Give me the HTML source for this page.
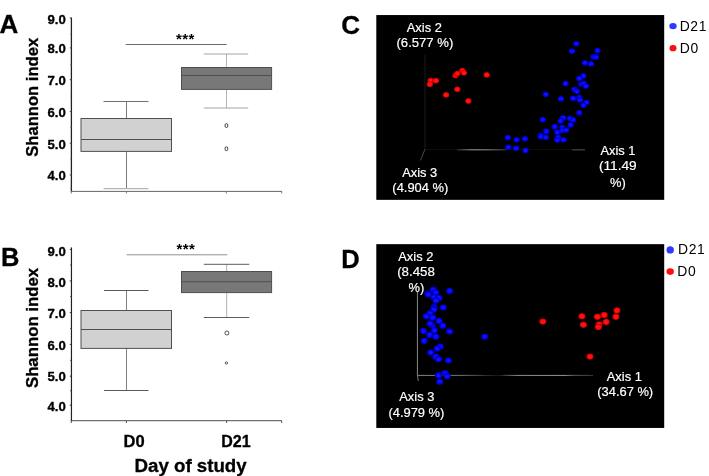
<!DOCTYPE html>
<html><head><meta charset="utf-8"><title>Figure</title>
<style>
html,body{margin:0;padding:0;background:#fff;}
body{width:709px;height:476px;overflow:hidden;}
svg{display:block;font-family:"Liberation Sans",sans-serif;}
svg text{fill:#000;}
svg text.w{fill:#fff;stroke:#fff;stroke-width:0.18px;}
svg text[font-weight="bold"]{stroke:#000;stroke-width:0.32px;}
svg text.ns{stroke:none;}
</style></head><body>
<svg width="709" height="476" viewBox="0 0 709 476">
<defs>
<filter id="soft" x="0" y="0" width="709" height="476" filterUnits="userSpaceOnUse"><feGaussianBlur stdDeviation="0.32"/></filter>
<linearGradient id="gC" gradientUnits="userSpaceOnUse" x1="457" y1="0" x2="506" y2="0"><stop offset="0" stop-color="#2a2a2a"/><stop offset="0.3" stop-color="#9a9a9a"/><stop offset="0.6" stop-color="#8a8a8a"/><stop offset="1" stop-color="#3a3a3a"/></linearGradient>
<linearGradient id="gD1" gradientUnits="userSpaceOnUse" x1="417" y1="0" x2="500" y2="0"><stop offset="0" stop-color="#858585"/><stop offset="0.55" stop-color="#707070"/><stop offset="0.8" stop-color="#3a3a3a"/><stop offset="1" stop-color="#151515"/></linearGradient>
<linearGradient id="gD2" gradientUnits="userSpaceOnUse" x1="498" y1="0" x2="593" y2="0"><stop offset="0" stop-color="#151515"/><stop offset="0.2" stop-color="#8c8c8c"/><stop offset="0.7" stop-color="#999"/><stop offset="0.8" stop-color="#555"/><stop offset="1" stop-color="#3a3a3a"/></linearGradient>
<radialGradient id="rR"><stop offset="0" stop-color="#ff1c1c"/><stop offset="0.55" stop-color="#ff0a0a"/><stop offset="0.82" stop-color="#e00000"/><stop offset="1" stop-color="#7a0000"/></radialGradient>
<radialGradient id="rB"><stop offset="0" stop-color="#1414ff"/><stop offset="0.55" stop-color="#0606ff"/><stop offset="0.82" stop-color="#0000e0"/><stop offset="1" stop-color="#000078"/></radialGradient>
</defs>
<g filter="url(#soft)">
<rect x="-5" y="-5" width="719" height="486" fill="#fff"/>
<line x1="71.4" y1="17.5" x2="71.4" y2="191.3" stroke="#222" stroke-width="1.3"/><line x1="69.7" y1="18" x2="71.4" y2="18" stroke="#444" stroke-width="0.9"/><line x1="69.7" y1="47.9" x2="71.4" y2="47.9" stroke="#444" stroke-width="0.9"/><line x1="69.7" y1="79.7" x2="71.4" y2="79.7" stroke="#444" stroke-width="0.9"/><line x1="69.7" y1="111.5" x2="71.4" y2="111.5" stroke="#444" stroke-width="0.9"/><line x1="69.7" y1="143.2" x2="71.4" y2="143.2" stroke="#444" stroke-width="0.9"/><line x1="69.7" y1="175" x2="71.4" y2="175" stroke="#444" stroke-width="0.9"/><line x1="70.0" y1="34.2" x2="71.4" y2="34.2" stroke="#777" stroke-width="0.8"/><line x1="70.0" y1="64.5" x2="71.4" y2="64.5" stroke="#777" stroke-width="0.8"/><line x1="70.0" y1="96" x2="71.4" y2="96" stroke="#777" stroke-width="0.8"/><line x1="70.0" y1="127.5" x2="71.4" y2="127.5" stroke="#777" stroke-width="0.8"/><line x1="70.0" y1="159" x2="71.4" y2="159" stroke="#777" stroke-width="0.8"/><line x1="70.0" y1="188" x2="71.4" y2="188" stroke="#777" stroke-width="0.8"/>
<text x="65.8" y="24.3" font-size="13.2" font-weight="bold" text-anchor="end">9.0</text><text x="65.8" y="53.3" font-size="13.2" font-weight="bold" text-anchor="end">8.0</text><text x="65.8" y="85.1" font-size="13.2" font-weight="bold" text-anchor="end">7.0</text><text x="65.8" y="117.4" font-size="13.2" font-weight="bold" text-anchor="end">6.0</text><text x="65.8" y="148.8" font-size="13.2" font-weight="bold" text-anchor="end">5.0</text><text x="65.8" y="180.3" font-size="13.2" font-weight="bold" text-anchor="end">4.0</text>
<line x1="70.7" y1="191.4" x2="282" y2="191.4" stroke="#555" stroke-width="0.9"/>
<line x1="71.3" y1="191.3" x2="71.3" y2="193.5" stroke="#777" stroke-width="1"/>
<line x1="126.4" y1="191.3" x2="126.4" y2="193.5" stroke="#777" stroke-width="1"/>
<line x1="226.3" y1="191.3" x2="226.3" y2="193.5" stroke="#777" stroke-width="1"/>
<line x1="281.7" y1="191.3" x2="281.7" y2="193.5" stroke="#777" stroke-width="1"/>
<line x1="126.5" y1="101.5" x2="126.5" y2="188.7" stroke="#5a5a5a" stroke-width="0.8"/><line x1="103.5" y1="101.5" x2="148.5" y2="101.5" stroke="#707070" stroke-width="1"/><line x1="103.5" y1="188.7" x2="148.5" y2="188.7" stroke="#a4a4a4" stroke-width="1"/><rect x="81.0" y="118.5" width="90.5" height="32.900000000000006" fill="#d1d1d1" stroke="#505050" stroke-width="1"/><line x1="81.0" y1="139.5" x2="171.5" y2="139.5" stroke="#505050" stroke-width="1"/>
<line x1="226.5" y1="54.0" x2="226.5" y2="108" stroke="#b4b4b4" stroke-width="1"/><line x1="203.8" y1="54.0" x2="248.2" y2="54.0" stroke="#a4a4a4" stroke-width="1"/><line x1="203.8" y1="108" x2="248.2" y2="108" stroke="#a4a4a4" stroke-width="1"/><rect x="181.5" y="67.5" width="90.10000000000002" height="21.900000000000006" fill="#787878" stroke="#505050" stroke-width="1"/><line x1="181.5" y1="75.5" x2="271.6" y2="75.5" stroke="#505050" stroke-width="1"/>
<line x1="125.6" y1="44.5" x2="226.6" y2="44.5" stroke="#6a6a6a" stroke-width="1"/>
<text class="ns" x="185.4" y="43.9" font-size="15" letter-spacing="0.5" font-weight="bold" text-anchor="middle">***</text>
<rect x="225.1" y="123.7" width="2.6" height="3.7" rx="1.1" fill="#fff" stroke="#2e2e2e" stroke-width="0.9"/>
<rect x="225.1" y="146.9" width="2.6" height="3.7" rx="1.1" fill="#fff" stroke="#2e2e2e" stroke-width="0.9"/>
<text transform="translate(38.4,97.3) rotate(-90)" font-size="16.6" font-weight="bold" text-anchor="middle">Shannon index</text>
<text x="-0.5" y="33" font-size="26" font-weight="bold">A</text>
<line x1="71.45" y1="247.4" x2="71.45" y2="420.8" stroke="#222" stroke-width="1.2"/><line x1="69.75" y1="249.4" x2="71.45" y2="249.4" stroke="#222" stroke-width="0.9"/><line x1="69.75" y1="280.9" x2="71.45" y2="280.9" stroke="#222" stroke-width="0.9"/><line x1="69.75" y1="312.6" x2="71.45" y2="312.6" stroke="#222" stroke-width="0.9"/><line x1="69.75" y1="344.4" x2="71.45" y2="344.4" stroke="#222" stroke-width="0.9"/><line x1="69.75" y1="376.2" x2="71.45" y2="376.2" stroke="#222" stroke-width="0.9"/><line x1="69.75" y1="405.2" x2="71.45" y2="405.2" stroke="#222" stroke-width="0.9"/><line x1="70.05" y1="265.1" x2="71.45" y2="265.1" stroke="#3a3a3a" stroke-width="0.8"/><line x1="70.05" y1="296.6" x2="71.45" y2="296.6" stroke="#3a3a3a" stroke-width="0.8"/><line x1="70.05" y1="328.5" x2="71.45" y2="328.5" stroke="#3a3a3a" stroke-width="0.8"/><line x1="70.05" y1="360.3" x2="71.45" y2="360.3" stroke="#3a3a3a" stroke-width="0.8"/><line x1="70.05" y1="390.8" x2="71.45" y2="390.8" stroke="#3a3a3a" stroke-width="0.8"/>
<text x="65.8" y="256.4" font-size="13.2" font-weight="bold" text-anchor="end">9.0</text><text x="65.8" y="287.4" font-size="13.2" font-weight="bold" text-anchor="end">8.0</text><text x="65.8" y="318.3" font-size="13.2" font-weight="bold" text-anchor="end">7.0</text><text x="65.8" y="349.7" font-size="13.2" font-weight="bold" text-anchor="end">6.0</text><text x="65.8" y="381.3" font-size="13.2" font-weight="bold" text-anchor="end">5.0</text><text x="65.8" y="410.5" font-size="13.2" font-weight="bold" text-anchor="end">4.0</text>
<line x1="70.6" y1="420.7" x2="282" y2="420.7" stroke="#3c3c3c" stroke-width="0.9"/>
<line x1="71.3" y1="420.8" x2="71.3" y2="423" stroke="#555" stroke-width="1"/>
<line x1="126.4" y1="420.8" x2="126.4" y2="423" stroke="#555" stroke-width="1"/>
<line x1="226.6" y1="420.8" x2="226.6" y2="423" stroke="#555" stroke-width="1"/>
<line x1="281.7" y1="420.8" x2="281.7" y2="423" stroke="#555" stroke-width="1"/>
<line x1="126.5" y1="290.5" x2="126.5" y2="390.5" stroke="#606060" stroke-width="0.8"/><line x1="104" y1="290.5" x2="148.5" y2="290.5" stroke="#5a5a5a" stroke-width="1"/><line x1="104" y1="390.5" x2="148.5" y2="390.5" stroke="#5a5a5a" stroke-width="1"/><rect x="81.0" y="310.5" width="90.5" height="37.89999999999998" fill="#d1d1d1" stroke="#505050" stroke-width="1"/><line x1="81.0" y1="329.5" x2="171.5" y2="329.5" stroke="#505050" stroke-width="1"/>
<line x1="226.7" y1="264.3" x2="226.7" y2="317.5" stroke="#b0b0b0" stroke-width="1"/><line x1="203.8" y1="264.3" x2="249.3" y2="264.3" stroke="#5c5c5c" stroke-width="1"/><line x1="203.8" y1="317.5" x2="249.3" y2="317.5" stroke="#5c5c5c" stroke-width="1"/><rect x="181.5" y="271.5" width="90.10000000000002" height="21.100000000000023" fill="#787878" stroke="#505050" stroke-width="1"/><line x1="181.5" y1="281.7" x2="271.6" y2="281.7" stroke="#505050" stroke-width="1"/>
<line x1="126.6" y1="254.8" x2="227.3" y2="254.8" stroke="#909090" stroke-width="1"/>
<text class="ns" x="185.9" y="254.0" font-size="15" letter-spacing="0.5" font-weight="bold" text-anchor="middle">***</text>
<rect x="225.1" y="331.2" width="3.6" height="3.6" rx="1.2" fill="#fff" stroke="#444" stroke-width="1"/>
<circle cx="226.4" cy="363" r="1.2" fill="#fff" stroke="#333" stroke-width="0.8"/>
<text transform="translate(38.4,328) rotate(-90)" font-size="16.75" font-weight="bold" text-anchor="middle">Shannon index</text>
<text x="1" y="266.2" font-size="25.5" font-weight="bold">B</text>
<text x="134.1" y="446.7" font-size="16.5" font-weight="bold" text-anchor="middle">D0</text>
<text x="236" y="446.7" font-size="16" font-weight="bold" text-anchor="middle">D21</text>
<text x="190.6" y="472" font-size="18.7" font-weight="bold" text-anchor="middle">Day of study</text>
<rect x="376.3" y="15.05" width="287.9" height="184.8" fill="#000"/>
<line x1="425" y1="55" x2="425" y2="149" stroke="#181818" stroke-width="1"/>
<line x1="425" y1="149" x2="420.5" y2="160.4" stroke="#484848" stroke-width="1"/>
<line x1="425" y1="149.8" x2="585" y2="149.8" stroke="#171717" stroke-width="1"/>
<line x1="457" y1="149.8" x2="506" y2="149.8" stroke="url(#gC)" stroke-width="1"/>
<line x1="572" y1="149.8" x2="585" y2="149.8" stroke="#4a4a4a" stroke-width="1"/>
<ellipse cx="430.6" cy="80.7" rx="3.30" ry="2.90" fill="url(#rR)"/>
<ellipse cx="429.8" cy="84.3" rx="3.30" ry="2.90" fill="url(#rR)"/>
<ellipse cx="435.9" cy="80.7" rx="3.30" ry="2.90" fill="url(#rR)"/>
<ellipse cx="455.5" cy="75.6" rx="3.30" ry="2.90" fill="url(#rR)"/>
<ellipse cx="457.3" cy="73.6" rx="3.30" ry="2.90" fill="url(#rR)"/>
<ellipse cx="462.3" cy="70.6" rx="3.30" ry="2.90" fill="url(#rR)"/>
<ellipse cx="463.9" cy="72.8" rx="3.30" ry="2.90" fill="url(#rR)"/>
<ellipse cx="486.7" cy="74.9" rx="3.30" ry="2.90" fill="url(#rR)"/>
<ellipse cx="457.3" cy="89.3" rx="3.30" ry="2.90" fill="url(#rR)"/>
<ellipse cx="446.1" cy="94.9" rx="3.30" ry="2.90" fill="url(#rR)"/>
<ellipse cx="468.4" cy="101" rx="3.30" ry="2.90" fill="url(#rR)"/>
<ellipse cx="576.3" cy="43.8" rx="3.30" ry="2.90" fill="url(#rB)"/>
<ellipse cx="572" cy="51.1" rx="3.30" ry="2.90" fill="url(#rB)"/>
<ellipse cx="597.6" cy="50.6" rx="3.30" ry="2.90" fill="url(#rB)"/>
<ellipse cx="593.6" cy="57" rx="3.30" ry="2.90" fill="url(#rB)"/>
<ellipse cx="596" cy="57" rx="3.30" ry="2.90" fill="url(#rB)"/>
<ellipse cx="584.9" cy="62.8" rx="3.30" ry="2.90" fill="url(#rB)"/>
<ellipse cx="591" cy="63.8" rx="3.30" ry="2.90" fill="url(#rB)"/>
<ellipse cx="583.4" cy="76" rx="3.30" ry="2.90" fill="url(#rB)"/>
<ellipse cx="579.3" cy="78.5" rx="3.30" ry="2.90" fill="url(#rB)"/>
<ellipse cx="565.6" cy="83.6" rx="3.30" ry="2.90" fill="url(#rB)"/>
<ellipse cx="581.4" cy="84.1" rx="3.30" ry="2.90" fill="url(#rB)"/>
<ellipse cx="583.9" cy="83.6" rx="3.30" ry="2.90" fill="url(#rB)"/>
<ellipse cx="586" cy="86.1" rx="3.30" ry="2.90" fill="url(#rB)"/>
<ellipse cx="574.5" cy="89.4" rx="3.30" ry="2.90" fill="url(#rB)"/>
<ellipse cx="576.8" cy="91.2" rx="3.30" ry="2.90" fill="url(#rB)"/>
<ellipse cx="545.8" cy="94.3" rx="3.30" ry="2.90" fill="url(#rB)"/>
<ellipse cx="561" cy="98.8" rx="3.30" ry="2.90" fill="url(#rB)"/>
<ellipse cx="573.2" cy="98.3" rx="3.30" ry="2.90" fill="url(#rB)"/>
<ellipse cx="579.3" cy="97.6" rx="3.30" ry="2.90" fill="url(#rB)"/>
<ellipse cx="580" cy="100" rx="3.30" ry="2.90" fill="url(#rB)"/>
<ellipse cx="586.4" cy="102.6" rx="3.30" ry="2.90" fill="url(#rB)"/>
<ellipse cx="583.4" cy="105.2" rx="3.30" ry="2.90" fill="url(#rB)"/>
<ellipse cx="579.3" cy="112.8" rx="3.30" ry="2.90" fill="url(#rB)"/>
<ellipse cx="542.8" cy="119.7" rx="3.30" ry="2.90" fill="url(#rB)"/>
<ellipse cx="563" cy="117.9" rx="3.30" ry="2.90" fill="url(#rB)"/>
<ellipse cx="560.6" cy="120.9" rx="3.30" ry="2.90" fill="url(#rB)"/>
<ellipse cx="570" cy="118.4" rx="3.30" ry="2.90" fill="url(#rB)"/>
<ellipse cx="573.2" cy="119.9" rx="3.30" ry="2.90" fill="url(#rB)"/>
<ellipse cx="570.7" cy="124.9" rx="3.30" ry="2.90" fill="url(#rB)"/>
<ellipse cx="554.7" cy="126.7" rx="3.30" ry="2.90" fill="url(#rB)"/>
<ellipse cx="562.3" cy="127.3" rx="3.30" ry="2.90" fill="url(#rB)"/>
<ellipse cx="546.3" cy="131.2" rx="3.30" ry="2.90" fill="url(#rB)"/>
<ellipse cx="557.3" cy="132.2" rx="3.30" ry="2.90" fill="url(#rB)"/>
<ellipse cx="562.3" cy="130.5" rx="3.30" ry="2.90" fill="url(#rB)"/>
<ellipse cx="566.1" cy="130" rx="3.30" ry="2.90" fill="url(#rB)"/>
<ellipse cx="540.8" cy="135.5" rx="3.30" ry="2.90" fill="url(#rB)"/>
<ellipse cx="540.8" cy="136.8" rx="3.30" ry="2.90" fill="url(#rB)"/>
<ellipse cx="545.8" cy="137.3" rx="3.30" ry="2.90" fill="url(#rB)"/>
<ellipse cx="558" cy="137.6" rx="3.30" ry="2.90" fill="url(#rB)"/>
<ellipse cx="557.3" cy="140.1" rx="3.30" ry="2.90" fill="url(#rB)"/>
<ellipse cx="563.6" cy="139.8" rx="3.30" ry="2.90" fill="url(#rB)"/>
<ellipse cx="507.8" cy="137.6" rx="3.30" ry="2.90" fill="url(#rB)"/>
<ellipse cx="516.6" cy="139.8" rx="3.30" ry="2.90" fill="url(#rB)"/>
<ellipse cx="525" cy="138.8" rx="3.30" ry="2.90" fill="url(#rB)"/>
<ellipse cx="508.3" cy="147.2" rx="3.30" ry="2.90" fill="url(#rB)"/>
<ellipse cx="516.1" cy="148.2" rx="3.30" ry="2.90" fill="url(#rB)"/>
<ellipse cx="525.5" cy="150.3" rx="3.30" ry="2.90" fill="url(#rB)"/>
<text x="424.3" y="31.6" font-size="12.9" class="w" text-anchor="middle">Axis 2</text>
<text x="424.9" y="46.9" font-size="13.1" class="w" text-anchor="middle">(6.577 %)</text>
<text x="419.7" y="177.4" font-size="12.9" class="w" text-anchor="middle">Axis 3</text>
<text x="420.3" y="192.4" font-size="12.9" class="w" text-anchor="middle">(4.904 %)</text>
<text x="618" y="155.4" font-size="12.9" class="w" text-anchor="middle">Axis 1</text>
<text x="617.8" y="170.1" font-size="13.7" class="w" text-anchor="middle">(11.49</text>
<text x="618" y="186.8" font-size="12.9" class="w" text-anchor="middle">%)</text>
<text x="341.3" y="33.6" font-size="26" font-weight="bold">C</text>
<ellipse cx="673" cy="26.1" rx="3.7" ry="3.2" fill="#2f3bff"/>
<ellipse cx="673" cy="48.2" rx="3.5" ry="3.1" fill="#ff0a0a"/>
<text x="679.7" y="31.2" font-size="13.9" letter-spacing="0.6">D21</text>
<text x="679.7" y="53.4" font-size="13.9" letter-spacing="0.8">D0</text>
<rect x="376.3" y="244.15" width="287.9" height="183.8" fill="#000"/>
<line x1="417.4" y1="291" x2="417.4" y2="375.3" stroke="#8a8a8a" stroke-width="1"/>
<line x1="417.4" y1="375.3" x2="418.3" y2="381" stroke="#777" stroke-width="1"/>
<line x1="417.4" y1="375.4" x2="500" y2="375.4" stroke="url(#gD1)" stroke-width="1"/>
<line x1="498" y1="375.4" x2="593" y2="375.4" stroke="url(#gD2)" stroke-width="1"/>
<ellipse cx="427.8" cy="293.5" rx="3.65" ry="3.25" fill="url(#rB)"/>
<ellipse cx="433.3" cy="289.7" rx="3.65" ry="3.25" fill="url(#rB)"/>
<ellipse cx="435.7" cy="292.3" rx="3.65" ry="3.25" fill="url(#rB)"/>
<ellipse cx="449.6" cy="290.9" rx="3.65" ry="3.25" fill="url(#rB)"/>
<ellipse cx="428.2" cy="294.6" rx="3.65" ry="3.25" fill="url(#rB)"/>
<ellipse cx="433.9" cy="297.3" rx="3.65" ry="3.25" fill="url(#rB)"/>
<ellipse cx="439" cy="298" rx="3.65" ry="3.25" fill="url(#rB)"/>
<ellipse cx="435.9" cy="300.6" rx="3.65" ry="3.25" fill="url(#rB)"/>
<ellipse cx="434" cy="307.2" rx="3.65" ry="3.25" fill="url(#rB)"/>
<ellipse cx="443.3" cy="307.5" rx="3.65" ry="3.25" fill="url(#rB)"/>
<ellipse cx="433.8" cy="309.6" rx="3.65" ry="3.25" fill="url(#rB)"/>
<ellipse cx="430.1" cy="313.3" rx="3.65" ry="3.25" fill="url(#rB)"/>
<ellipse cx="426.3" cy="316.3" rx="3.65" ry="3.25" fill="url(#rB)"/>
<ellipse cx="432.6" cy="317.6" rx="3.65" ry="3.25" fill="url(#rB)"/>
<ellipse cx="432" cy="325.2" rx="3.65" ry="3.25" fill="url(#rB)"/>
<ellipse cx="439" cy="320.9" rx="3.65" ry="3.25" fill="url(#rB)"/>
<ellipse cx="430.1" cy="323.6" rx="3.65" ry="3.25" fill="url(#rB)"/>
<ellipse cx="442.8" cy="325.8" rx="3.65" ry="3.25" fill="url(#rB)"/>
<ellipse cx="423.5" cy="331" rx="3.65" ry="3.25" fill="url(#rB)"/>
<ellipse cx="434.4" cy="330.3" rx="3.65" ry="3.25" fill="url(#rB)"/>
<ellipse cx="449.6" cy="331.5" rx="3.65" ry="3.25" fill="url(#rB)"/>
<ellipse cx="429.7" cy="334.9" rx="3.65" ry="3.25" fill="url(#rB)"/>
<ellipse cx="435.9" cy="336.7" rx="3.65" ry="3.25" fill="url(#rB)"/>
<ellipse cx="484.7" cy="336.7" rx="3.65" ry="3.25" fill="url(#rB)"/>
<ellipse cx="424.3" cy="340.9" rx="3.65" ry="3.25" fill="url(#rB)"/>
<ellipse cx="440.3" cy="346.6" rx="3.65" ry="3.25" fill="url(#rB)"/>
<ellipse cx="437.2" cy="348.4" rx="3.65" ry="3.25" fill="url(#rB)"/>
<ellipse cx="430.6" cy="352.5" rx="3.65" ry="3.25" fill="url(#rB)"/>
<ellipse cx="435.9" cy="356.8" rx="3.65" ry="3.25" fill="url(#rB)"/>
<ellipse cx="438.5" cy="359.3" rx="3.65" ry="3.25" fill="url(#rB)"/>
<ellipse cx="448.4" cy="360.6" rx="3.65" ry="3.25" fill="url(#rB)"/>
<ellipse cx="438.5" cy="375.3" rx="3.65" ry="3.25" fill="url(#rB)"/>
<ellipse cx="445.3" cy="373.3" rx="3.65" ry="3.25" fill="url(#rB)"/>
<ellipse cx="447.1" cy="376.3" rx="3.65" ry="3.25" fill="url(#rB)"/>
<ellipse cx="439.7" cy="381.7" rx="3.65" ry="3.25" fill="url(#rB)"/>
<ellipse cx="542.8" cy="321.6" rx="3.65" ry="3.25" fill="url(#rR)"/>
<ellipse cx="581.9" cy="316.3" rx="3.65" ry="3.25" fill="url(#rR)"/>
<ellipse cx="583.4" cy="324.7" rx="3.65" ry="3.25" fill="url(#rR)"/>
<ellipse cx="597.4" cy="316.8" rx="3.65" ry="3.25" fill="url(#rR)"/>
<ellipse cx="604.2" cy="315" rx="3.65" ry="3.25" fill="url(#rR)"/>
<ellipse cx="599.1" cy="324.4" rx="3.65" ry="3.25" fill="url(#rR)"/>
<ellipse cx="598.4" cy="327" rx="3.65" ry="3.25" fill="url(#rR)"/>
<ellipse cx="606.2" cy="321.9" rx="3.65" ry="3.25" fill="url(#rR)"/>
<ellipse cx="616.9" cy="310.5" rx="3.65" ry="3.25" fill="url(#rR)"/>
<ellipse cx="615.9" cy="316.8" rx="3.65" ry="3.25" fill="url(#rR)"/>
<ellipse cx="590" cy="356.6" rx="3.65" ry="3.25" fill="url(#rR)"/>
<text x="415.8" y="261.2" font-size="12.9" class="w" text-anchor="middle">Axis 2</text>
<text x="416" y="276.0" font-size="13.3" class="w" text-anchor="middle">(8.458</text>
<text x="416.4" y="291.8" font-size="12.9" class="w" text-anchor="middle">%)</text>
<text x="416.8" y="401.0" font-size="12.9" class="w" text-anchor="middle">Axis 3</text>
<text x="416.4" y="416.7" font-size="12.9" class="w" text-anchor="middle">(4.979 %)</text>
<text x="624.3" y="381.0" font-size="12.9" class="w" text-anchor="middle">Axis 1</text>
<text x="625.2" y="396.3" font-size="12.9" class="w" text-anchor="middle">(34.67 %)</text>
<text x="341.3" y="267.6" font-size="25.5" font-weight="bold">D</text>
<circle cx="670.2" cy="249.9" r="3.7" fill="#2f3bff"/>
<ellipse cx="670.2" cy="271.6" rx="3.7" ry="3.3" fill="#ff0a0a"/>
<text x="678.1" y="254.4" font-size="13.9" letter-spacing="0.6">D21</text>
<text x="677.2" y="276.4" font-size="13.9" letter-spacing="0.8">D0</text>
</g>
</svg>
</body></html>
